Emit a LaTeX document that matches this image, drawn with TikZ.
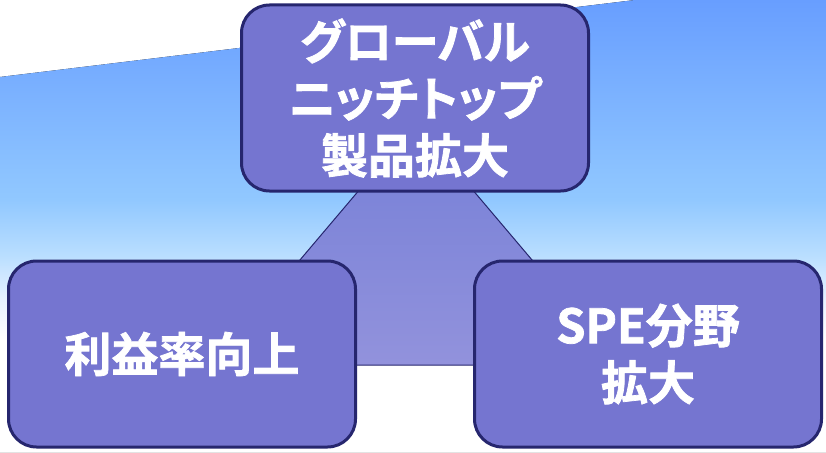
\documentclass[tikz,border=0pt]{standalone}
\usepackage{fontspec}
\newfontfamily\jpfont{Noto Sans CJK JP Bold}[FakeBold=1.6, RawFeature=+palt]
\definecolor{boxfill}{RGB}{117,117,208}
\definecolor{boxline}{RGB}{38,38,110}
\definecolor{skytop}{RGB}{104,158,255}
\definecolor{skymid}{RGB}{145,200,255}
\definecolor{skylow}{RGB}{185,222,255}
\definecolor{skyend}{RGB}{232,242,255}
\definecolor{tritop}{RGB}{117,127,215}
\definecolor{tribot}{RGB}{146,146,220}
\pgfdeclareverticalshading{skyfade}{100bp}{color(0bp)=(white); color(37.4bp)=(white); color(41.8bp)=(skyend); color(46.8bp)=(skylow); color(52.9bp)=(skymid); color(75bp)=(skytop); color(100bp)=(skytop)}
\tikzset{goalbox/.style={draw=boxline, line width=3pt, fill=boxfill, rounded corners=28pt,
    minimum width=347pt, minimum height=186pt, text=white, align=center,
    font=\jpfont\fontsize{47}{57}\selectfont}}

\begin{document}
\begin{tikzpicture}[x=1pt, y=-1pt]
    \useasboundingbox (0,0) rectangle (826,452);
    \fill[white] (0,0) rectangle (826,452);
    \fill[shading=skyfade] (0,77) -- (635,0) -- (826,0) -- (826,452) -- (0,452) -- cycle;
    % triangle behind the three goals
    \coordinate (apex) at (416,123);
    \coordinate (tl) at (211,365);
    \coordinate (tr) at (621,365);
    \draw[boxline, line width=1pt, top color=tritop, bottom color=tribot] (apex) -- (tl) -- (tr) -- cycle;
    \node[goalbox] (niche) at (415,98) {グローバル\\ニッチトップ\\製品拡大};
    \node[goalbox] (profit) at (182,354) {利益率向上};
    \node[goalbox] (spe) at (648,354) {SPE分野\\拡大};
  \end{tikzpicture}
\end{document}
